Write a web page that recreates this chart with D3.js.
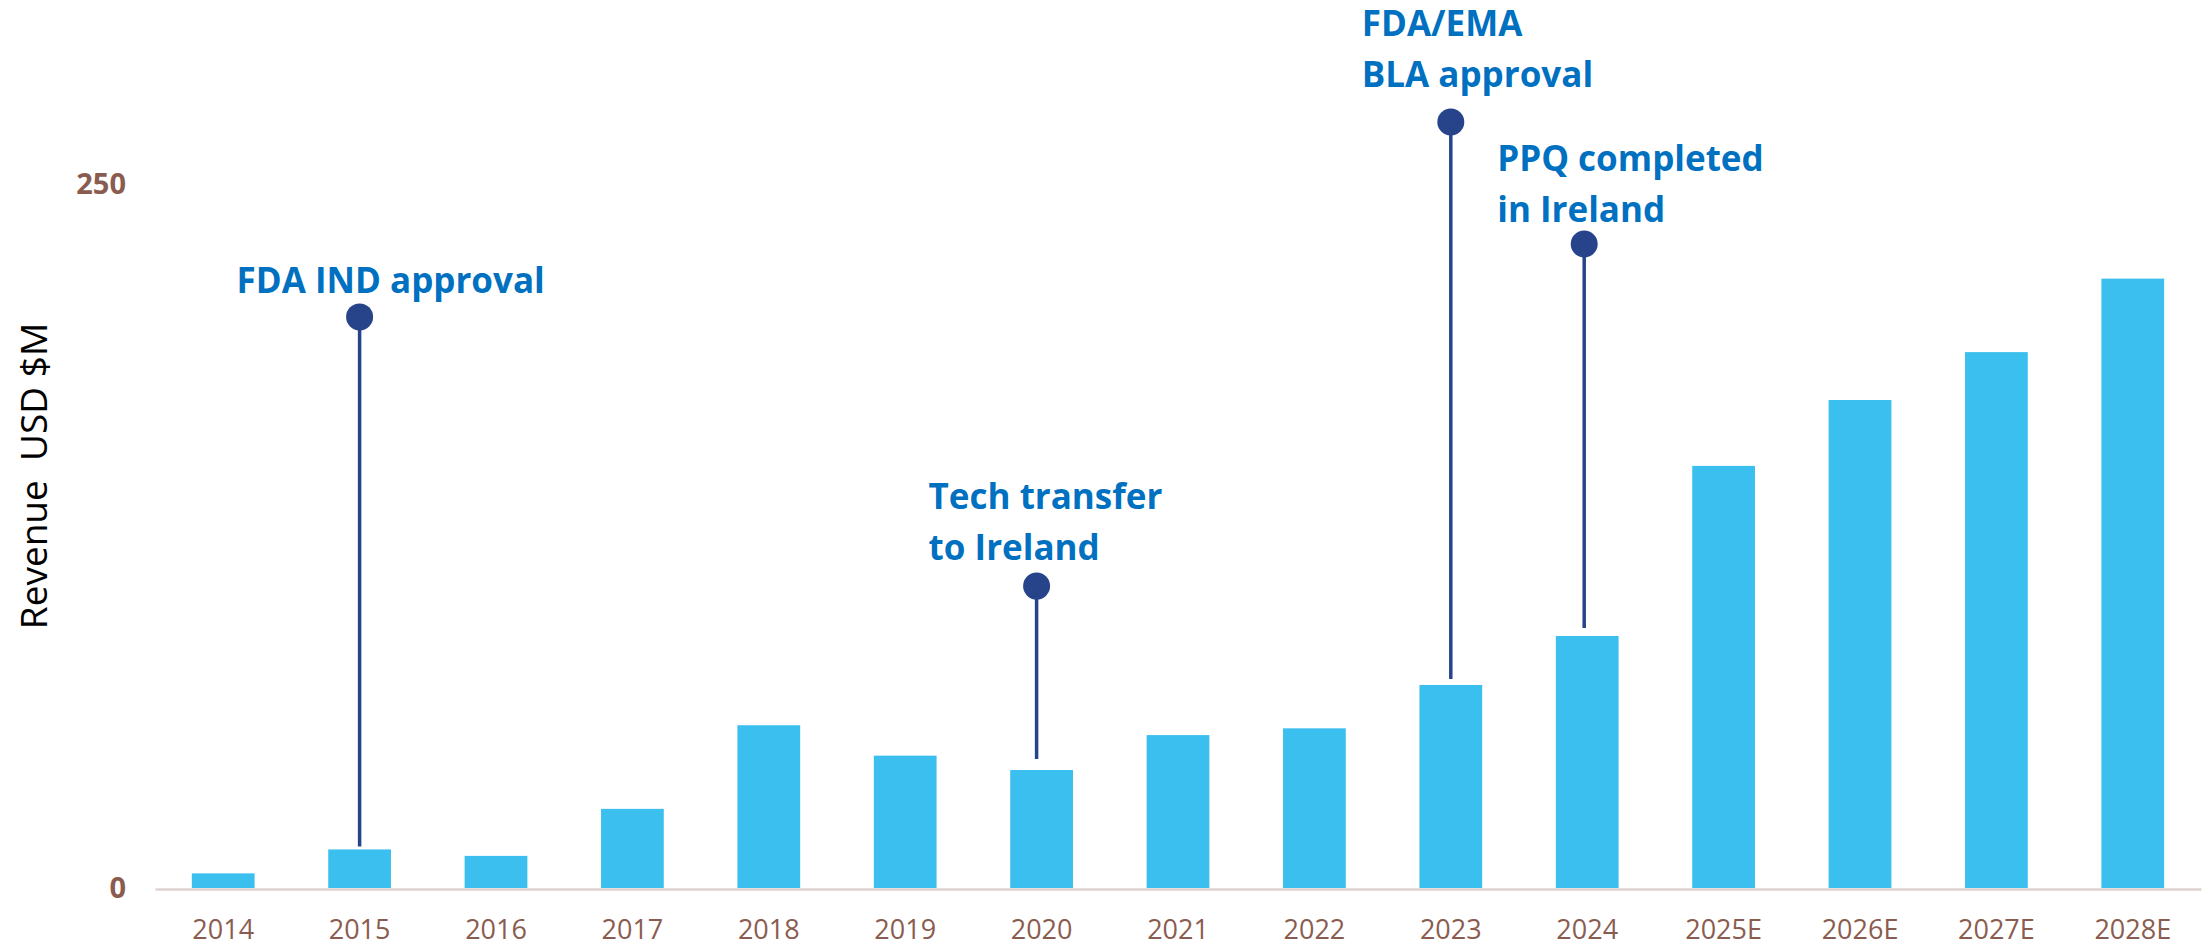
<!DOCTYPE html>
<html>
<head>
<meta charset="utf-8">
<script src="https://cdn.jsdelivr.net/npm/d3@7"></script>
<style>
  html, body { margin: 0; padding: 0; background: #fff; }
  svg { display: block; font-family: "Open Sans", sans-serif; }
</style>
</head>
<body>
<svg id="chart" width="2202" height="946"></svg>
<script>
// revenue by year (USD $M)
const years = ["2014", "2015", "2016", "2017", "2018", "2019", "2020", "2021",
               "2022", "2023", "2024", "2025E", "2026E", "2027E", "2028E"];
const revenue = [5.2, 13.7, 11.4, 28.1, 57.8, 47.0, 41.9, 54.3,
                 56.7, 72.1, 89.5, 149.9, 173.3, 190.3, 216.4];
const yTicks = [0, 250];

// milestones: which bar, how high the dot sits (axis units), label lines
const noteYears = ["2015", "2020", "2023", "2024"];
const noteLevels = [202.8, 107.2, 272, 228.7];
const noteLabels = [
    ["FDA IND approval"],
    ["Tech transfer", "to Ireland"],
    ["FDA/EMA", "BLA approval"],
    ["PPQ completed", "in Ireland"]
];

// layout tweaks for the milestone labels (px)
const noteDx = [-123, -108, -89, -87];
const noteDy = [-24, -26, -35, -22];
const noteShift = [0, -5, 0, -3];
const noteGap = [3, 11, 6, 8];

const svg = d3.select("#chart");

const x = d3.scaleBand()
    .domain(years)
    .range([155, 2201])
    .paddingInner(0.54)
    .paddingOuter(0.27);

const y = d3.scaleLinear()
    .domain([0, 250])
    .range([888, 184]);

// bars
svg.append("g")
    .selectAll("rect")
    .data(years)
    .join("rect")
    .attr("x", d => x(d))
    .attr("y", (d, i) => y(revenue[i]))
    .attr("width", x.bandwidth())
    .attr("height", (d, i) => y(0) - y(revenue[i]))
    .attr("fill", "#3BBFEE");

// x axis
const xAxis = svg.append("g")
    .attr("transform", "translate(0," + (y(0) + 1) + ")")
    .call(d3.axisBottom(x).tickSize(0).tickPadding(31));
xAxis.select(".domain")
    .attr("stroke", "#DDD3D0")
    .attr("stroke-width", 2.5);
xAxis.selectAll("text")
    .attr("fill", "#8A5C50")
    .style("font-size", "27px")
    .style("font-family", "'Open Sans', sans-serif");

// y axis (only two labels, no line)
const yAxis = svg.append("g")
    .attr("transform", "translate(150,0)")
    .call(d3.axisLeft(y).tickValues(yTicks).tickSize(0).tickPadding(24));
yAxis.select(".domain").remove();
yAxis.selectAll("text")
    .attr("fill", "#8A5C50")
    .style("font-size", "29px")
    .style("font-weight", "bold")
    .style("font-family", "'Open Sans', sans-serif");

// y axis title
svg.append("text")
    .attr("transform", "translate(47,476) rotate(-90)")
    .attr("text-anchor", "middle")
    .style("white-space", "pre")
    .style("font-size", "37px")
    .attr("fill", "#000")
    .text("Revenue  USD $M");

// milestone markers
const notes = svg.append("g")
    .selectAll("g")
    .data(noteYears)
    .join("g")
    .attr("transform", (d, i) =>
        "translate(" + (x(d) + x.bandwidth() / 2 + noteShift[i]) + "," + y(noteLevels[i]) + ")");

notes.append("line")
    .attr("x1", 0)
    .attr("x2", 0)
    .attr("y1", 0)
    .attr("y2", (d, i) => y(revenue[years.indexOf(d)]) - noteGap[i] - y(noteLevels[i]))
    .attr("stroke", "#27448B")
    .attr("stroke-width", 3.5);

notes.append("circle")
    .attr("r", 13.5)
    .attr("fill", "#27448B");

notes.each(function (d, i) {
    const lines = noteLabels[i];
    const t = d3.select(this).append("text")
        .attr("fill", "#0070C0")
        .style("font-size", "35px")
        .style("font-weight", "bold");
    lines.forEach((s, j) => {
        t.append("tspan")
            .attr("x", noteDx[i])
            .attr("y", noteDy[i] - (lines.length - 1 - j) * 51)
            .text(s);
    });
});
</script>
</body>
</html>
